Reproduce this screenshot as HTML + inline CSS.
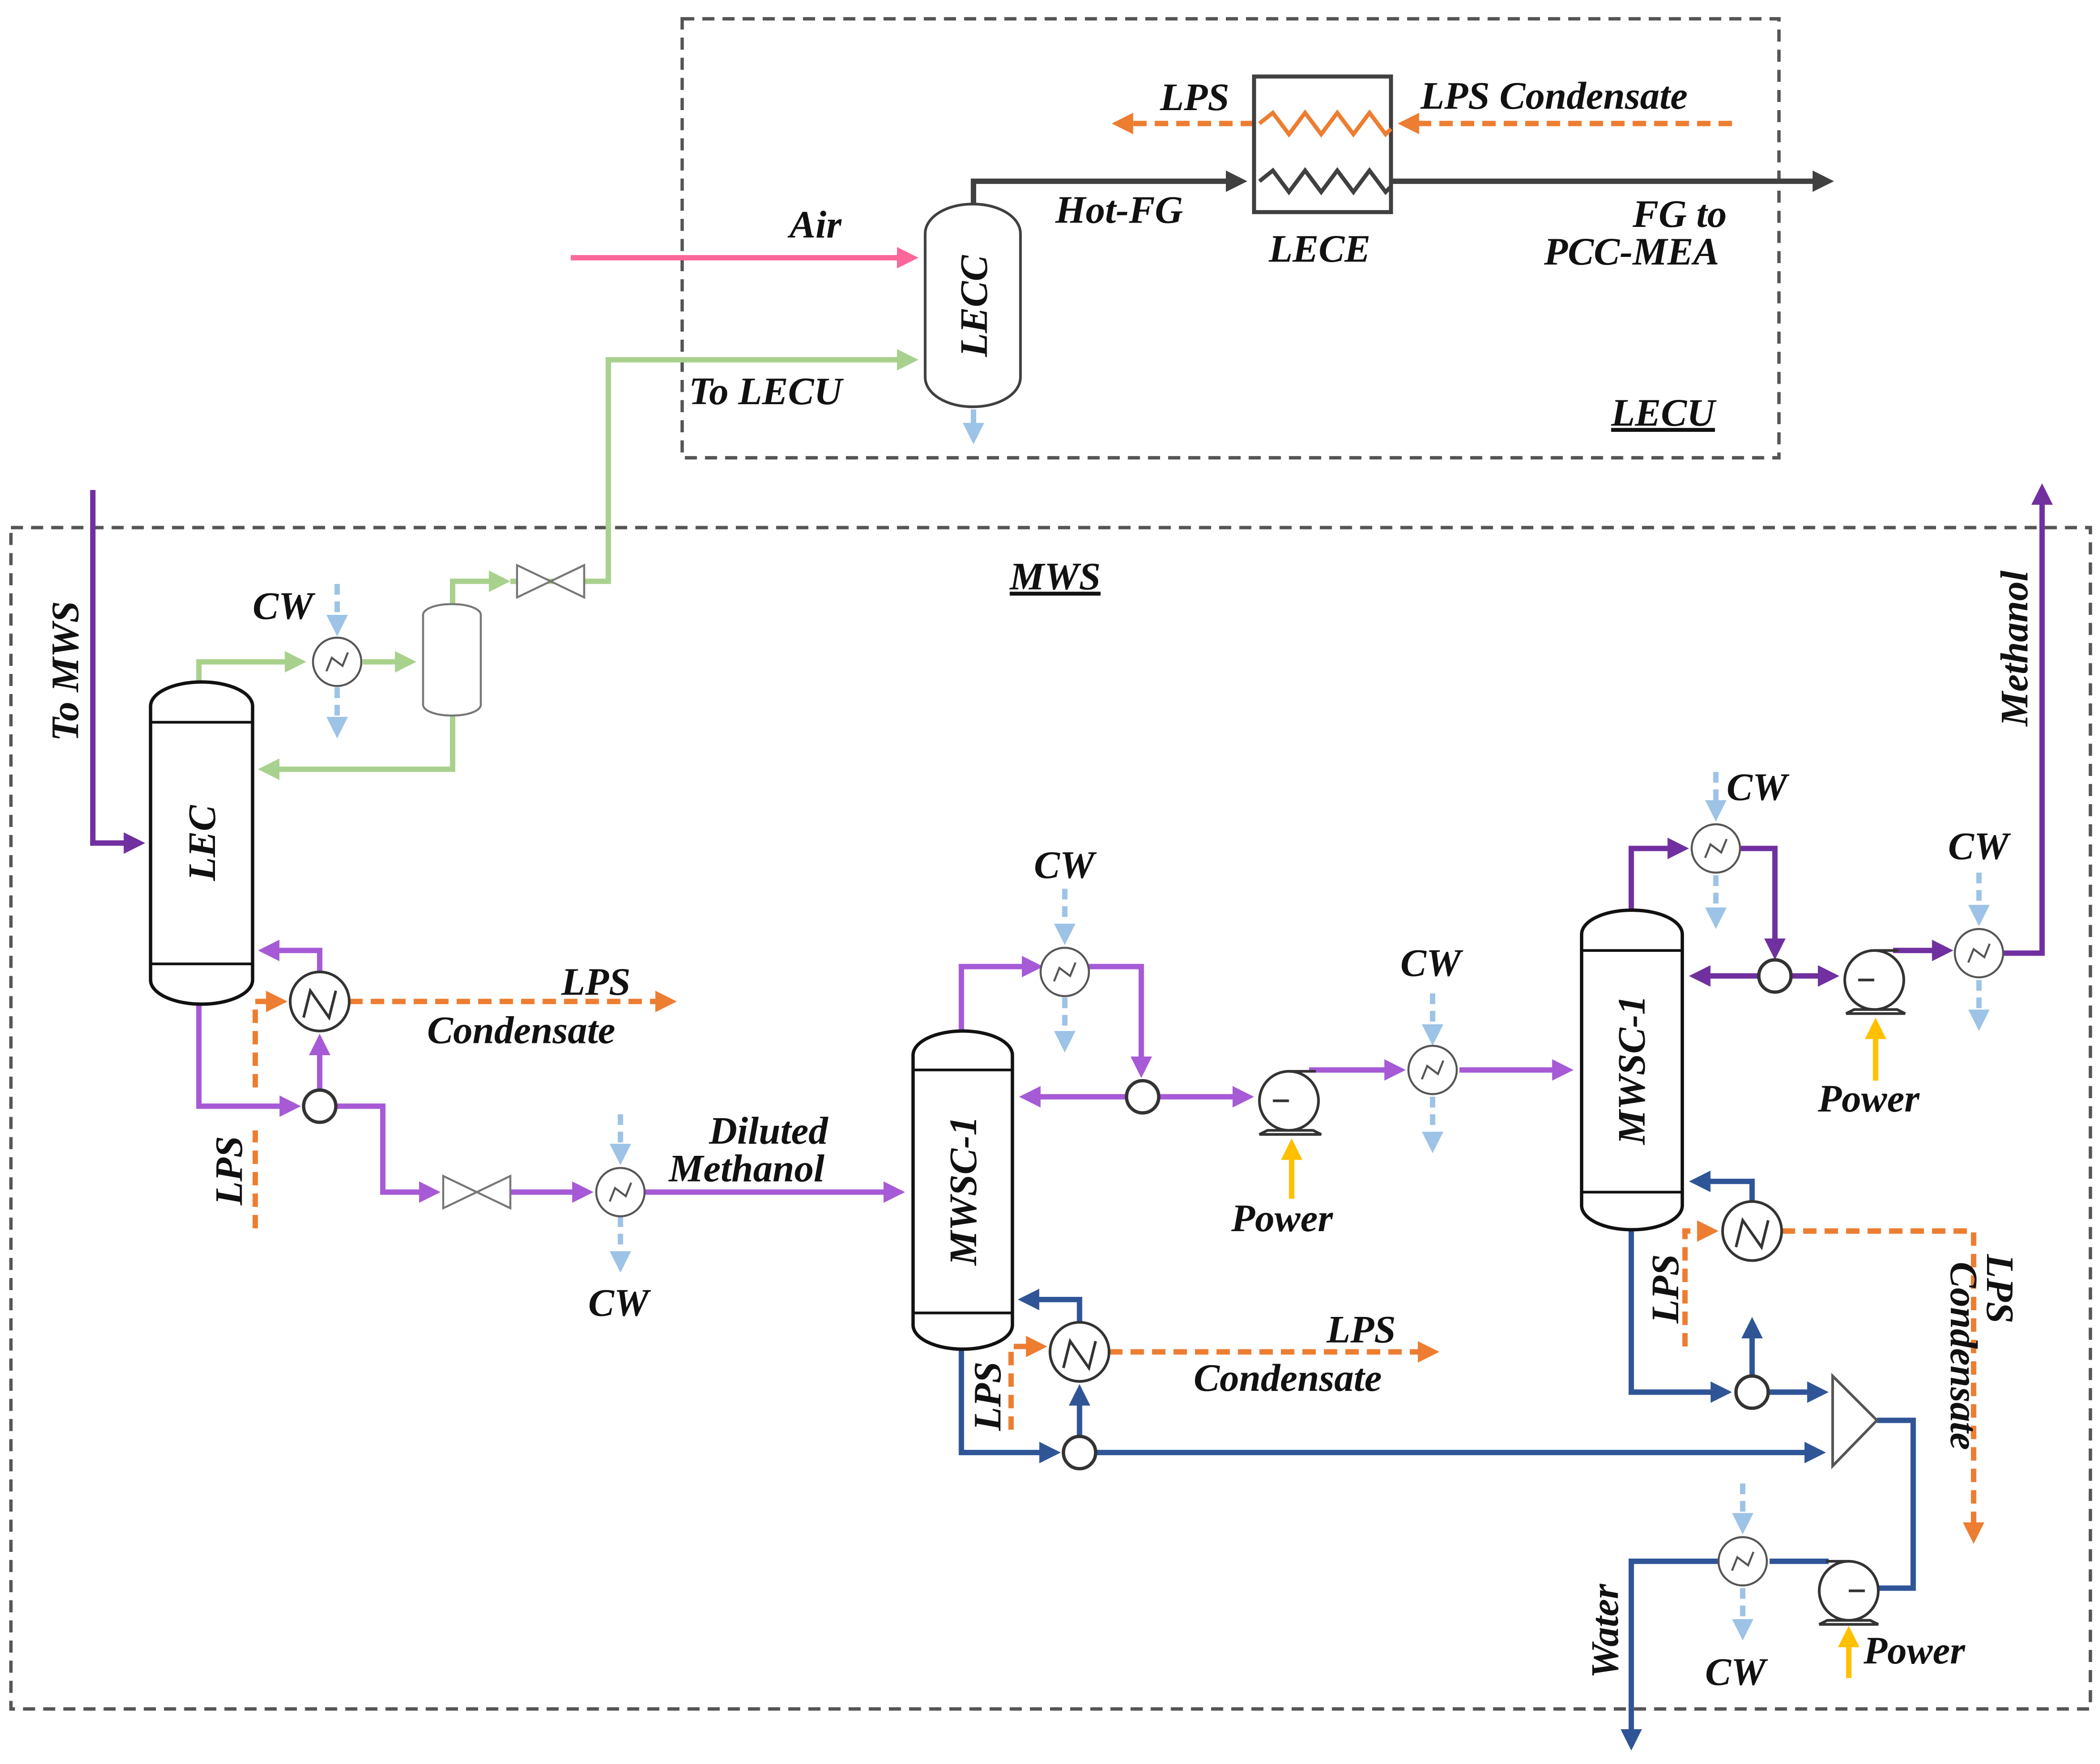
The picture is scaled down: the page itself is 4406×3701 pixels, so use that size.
<!DOCTYPE html>
<html><head><meta charset="utf-8"><style>
html,body{margin:0;padding:0;background:#fff}
svg{display:block}
text{font-family:"Liberation Serif",serif;font-style:italic;font-weight:bold;font-size:29px;fill:#111}
</style></head><body>
<svg width="4406" height="3701" viewBox="0 0 1564 1314" xmlns="http://www.w3.org/2000/svg">
<defs>
<marker id="ap" markerWidth="4" markerHeight="4" refX="3" refY="2" orient="auto" markerUnits="strokeWidth"><path d="M0,0L4,2L0,4z" fill="#a65ad6"/></marker>
<marker id="ad" markerWidth="4" markerHeight="4" refX="3" refY="2" orient="auto" markerUnits="strokeWidth"><path d="M0,0L4,2L0,4z" fill="#7030a0"/></marker>
<marker id="ab" markerWidth="4" markerHeight="4" refX="3" refY="2" orient="auto" markerUnits="strokeWidth"><path d="M0,0L4,2L0,4z" fill="#2f5597"/></marker>
<marker id="al" markerWidth="4" markerHeight="4" refX="3" refY="2" orient="auto" markerUnits="strokeWidth"><path d="M0,0L4,2L0,4z" fill="#9dc3e6"/></marker>
<marker id="ao" markerWidth="4" markerHeight="4" refX="3" refY="2" orient="auto" markerUnits="strokeWidth"><path d="M0,0L4,2L0,4z" fill="#ed7d31"/></marker>
<marker id="ag" markerWidth="4" markerHeight="4" refX="3" refY="2" orient="auto" markerUnits="strokeWidth"><path d="M0,0L4,2L0,4z" fill="#a9d18e"/></marker>
<marker id="ak" markerWidth="4" markerHeight="4" refX="3" refY="2" orient="auto" markerUnits="strokeWidth"><path d="M0,0L4,2L0,4z" fill="#ff6699"/></marker>
<marker id="ax" markerWidth="4" markerHeight="4" refX="3" refY="2" orient="auto" markerUnits="strokeWidth"><path d="M0,0L4,2L0,4z" fill="#404040"/></marker>
<marker id="ay" markerWidth="4" markerHeight="4" refX="3" refY="2" orient="auto" markerUnits="strokeWidth"><path d="M0,0L4,2L0,4z" fill="#ffc000"/></marker>
</defs>
<g fill="none" stroke="#555" stroke-width="2.5" stroke-dasharray="9,6">
<rect x="508" y="14" width="817" height="327"/>
<rect x="8" y="393" width="1549" height="880"/>
</g>
<g fill="none" stroke-width="4">
<path d="M425,192H680" stroke="#ff6699" marker-end="url(#ak)"/>
<path d="M380,433H453V268H680" stroke="#a9d18e" marker-end="url(#ag)"/>
<path d="M725,152V135H925" stroke="#404040" marker-end="url(#ax)"/>
<path d="M1036,135H1362" stroke="#404040" marker-end="url(#ax)"/>
<path d="M1290,92H1045" stroke="#ed7d31" stroke-dasharray="10,6" marker-end="url(#ao)"/>
<path d="M934,92H832" stroke="#ed7d31" stroke-dasharray="10,6" marker-end="url(#ao)"/>
<path d="M725,305V327" stroke="#9dc3e6" marker-end="url(#al)"/>
</g>
<rect x="689" y="152" width="71" height="151" rx="35" ry="22" fill="#fff" stroke="#404040" stroke-width="2"/>
<rect x="934" y="57" width="102" height="101" fill="#fff" stroke="#404040" stroke-width="3"/>
<path d="M938,92l10,-8l12,16l12,-16l12,16l12,-16l12,16l12,-16l12,16l4,-4" fill="none" stroke="#ed7d31" stroke-width="3"/>
<path d="M938,135l10,-8l12,16l12,-16l12,16l12,-16l12,16l12,-16l12,16l4,-4" fill="none" stroke="#404040" stroke-width="3"/>
<text x="588" y="177">Air</text>
<text x="786" y="166">Hot-FG</text>
<text x="945" y="195">LECE</text>
<text x="1216" y="169">FG to</text>
<text x="1150" y="197">PCC-MEA</text>
<text x="864" y="82">LPS</text>
<text x="1058" y="81">LPS Condensate</text>
<text x="513" y="301">To LECU</text>
<text x="1200" y="317" text-decoration="underline">LECU</text>
<text transform="translate(735,228) rotate(-90)" text-anchor="middle">LECC</text>
<text x="752" y="439" text-decoration="underline">MWS</text>

<g fill="none" stroke-width="4">
<path d="M69,365V628H104" stroke="#7030a0" marker-end="url(#ad)"/>
<path d="M148,508V493H224" stroke="#a9d18e" marker-end="url(#ag)"/>
<path d="M270,493H306" stroke="#a9d18e" marker-end="url(#ag)"/>
<path d="M337,450V433H376" stroke="#a9d18e" marker-end="url(#ag)"/>
<path d="M337,533V573H196" stroke="#a9d18e" marker-end="url(#ag)"/>
<path d="M148,748V824H220" stroke="#a65ad6" marker-end="url(#ap)"/>
<path d="M238,812V774" stroke="#a65ad6" marker-end="url(#ap)"/>
<path d="M238,724V708H196" stroke="#a65ad6" marker-end="url(#ap)"/>
<path d="M250,824H285V888H324" stroke="#a65ad6" marker-end="url(#ap)"/>
<path d="M380,888H438" stroke="#a65ad6" marker-end="url(#ap)"/>
<path d="M480,888H670" stroke="#a65ad6" marker-end="url(#ap)"/>
<g stroke="#ed7d31" stroke-dasharray="10,6">
<path d="M190,915V842"/>
<path d="M190,810V746H210" marker-end="url(#ao)"/>
<path d="M260,746H500" marker-end="url(#ao)"/>
</g>
<g stroke="#9dc3e6" stroke-dasharray="8,5">
<path d="M251,435V470" marker-end="url(#al)"/><path d="M251,512V546" marker-end="url(#al)"/>
<path d="M462,830V864" marker-end="url(#al)"/><path d="M462,906V944" marker-end="url(#al)"/>
</g>
</g>
<rect x="112" y="508" width="76" height="240" rx="38" ry="18" fill="#fff" stroke="#111" stroke-width="2.5"/>
<path d="M112,538H188M112,718H188" stroke="#111" stroke-width="2"/>
<rect x="315" y="450" width="43" height="83" rx="21" ry="8" fill="#fff" stroke="#777" stroke-width="1.5"/>
<path d="M385,421L435,445V421L385,445z" fill="#fff" stroke="#777" stroke-width="1.5"/>
<path d="M330,876L380,900V876L330,900z" fill="#fff" stroke="#777" stroke-width="1.5"/>
<g fill="#fff" stroke="#555" stroke-width="1.5">
<circle cx="251" cy="493" r="18"/><circle cx="462" cy="888" r="18"/>
</g>
<circle cx="238" cy="746" r="22" fill="#fff" stroke="#333" stroke-width="2"/>
<circle cx="238" cy="824" r="12" fill="#fff" stroke="#333" stroke-width="2.5"/>
<g fill="none" stroke="#555" stroke-width="1.5">
<path d="M243,500l4,-10l8,6l4,-10"/><path d="M454,895l4,-10l8,6l4,-10"/>
</g>
<path d="M226,758l5,-20l14,20l5,-20" fill="none" stroke="#333" stroke-width="2"/>
<text x="188" y="461">CW</text>
<text x="438" y="980">CW</text>
<text x="418" y="741">LPS</text>
<text x="318" y="777">Condensate</text>
<text x="528" y="852">Diluted</text>
<text x="498" y="880">Methanol</text>
<text transform="translate(58,500) rotate(-90)" text-anchor="middle">To MWS</text>
<text transform="translate(160,628) rotate(-90)" text-anchor="middle">LEC</text>
<text transform="translate(180,872) rotate(-90)" text-anchor="middle">LPS</text>

<g fill="none" stroke-width="4">
<path d="M716,768V720H773" stroke="#a65ad6" marker-end="url(#ap)"/>
<path d="M811,720H850V799" stroke="#a65ad6" marker-end="url(#ap)"/>
<path d="M839,817H763" stroke="#a65ad6" marker-end="url(#ap)"/>
<path d="M863,817H930" stroke="#a65ad6" marker-end="url(#ap)"/>
<path d="M975,797H1043" stroke="#a65ad6" marker-end="url(#ap)"/>
<path d="M1087,797H1168" stroke="#a65ad6" marker-end="url(#ap)"/>
<path d="M716,1005V1082H786" stroke="#2f5597" marker-end="url(#ab)"/>
<path d="M816,1082H1356" stroke="#2f5597" marker-end="url(#ab)"/>
<path d="M804,1070V1035" stroke="#2f5597" marker-end="url(#ab)"/>
<path d="M804,985V968H762" stroke="#2f5597" marker-end="url(#ab)"/>
<g stroke="#ed7d31" stroke-dasharray="10,6">
<path d="M753,1065V1003H776" marker-end="url(#ao)"/>
<path d="M826,1007H1068" marker-end="url(#ao)"/>
</g>
<g stroke="#9dc3e6" stroke-dasharray="8,5">
<path d="M793,662V700" marker-end="url(#al)"/><path d="M793,743V780" marker-end="url(#al)"/>
<path d="M1067,740V775" marker-end="url(#al)"/><path d="M1067,817V855" marker-end="url(#al)"/>
</g>
<path d="M962,893V852" stroke="#ffc000" marker-end="url(#ay)"/>
</g>
<rect x="680" y="768" width="74" height="237" rx="37" ry="18" fill="#fff" stroke="#111" stroke-width="2.5"/>
<path d="M680,797H754M680,978H754" stroke="#111" stroke-width="2"/>
<g fill="#fff" stroke="#555" stroke-width="1.5">
<circle cx="793" cy="724" r="18"/><circle cx="1067" cy="797" r="18"/>
</g>
<g fill="none" stroke="#555" stroke-width="1.5">
<path d="M785,731l4,-10l8,6l4,-10"/><path d="M1059,804l4,-10l8,6l4,-10"/>
</g>
<circle cx="804" cy="1007" r="22" fill="#fff" stroke="#333" stroke-width="2"/>
<path d="M792,1019l5,-20l14,20l5,-20" fill="none" stroke="#333" stroke-width="2"/>
<circle cx="851" cy="817" r="12" fill="#fff" stroke="#333" stroke-width="2.5"/>
<circle cx="804" cy="1082" r="12" fill="#fff" stroke="#333" stroke-width="2.5"/>
<path d="M944,842L938,845H984L978,842z" fill="#fff" stroke="#333" stroke-width="2"/>
<circle cx="960" cy="820" r="22" fill="#fff" stroke="#333" stroke-width="2"/>
<path d="M960,820H948M960,798H980" stroke="#333" stroke-width="2"/>
<text x="770" y="654">CW</text>
<text x="1043" y="727">CW</text>
<text x="917" y="917">Power</text>
<text x="988" y="1000">LPS</text>
<text x="889" y="1036">Condensate</text>
<text transform="translate(727,887) rotate(-90)" text-anchor="middle">MWSC-1</text>
<text transform="translate(745,1040) rotate(-90)" text-anchor="middle">LPS</text>

<g fill="none" stroke-width="4">
<path d="M1215,678V632H1254" stroke="#7030a0" marker-end="url(#ad)"/>
<path d="M1296,632H1322V711" stroke="#7030a0" marker-end="url(#ad)"/>
<path d="M1310,727H1262" stroke="#7030a0" marker-end="url(#ad)"/>
<path d="M1334,727H1366" stroke="#7030a0" marker-end="url(#ad)"/>
<path d="M1410,708H1451" stroke="#7030a0" marker-end="url(#ad)"/>
<path d="M1492,710H1521V364" stroke="#7030a0" marker-end="url(#ad)"/>
<path d="M1215,916V1037H1286" stroke="#2f5597" marker-end="url(#ab)"/>
<path d="M1305,1025V985" stroke="#2f5597" marker-end="url(#ab)"/>
<path d="M1317,1037H1358" stroke="#2f5597" marker-end="url(#ab)"/>
<path d="M1305,895V880H1262" stroke="#2f5597" marker-end="url(#ab)"/>
<path d="M1398,1058H1425V1183H1398" stroke="#2f5597"/>
<path d="M1362,1163H1318" stroke="#2f5597"/>
<path d="M1280,1163H1215V1300" stroke="#2f5597" marker-end="url(#ab)"/>
<g stroke="#ed7d31" stroke-dasharray="10,6">
<path d="M1255,1003V917H1276" marker-end="url(#ao)"/>
<path d="M1327,917H1470V1146" marker-end="url(#ao)"/>
</g>
<g stroke="#9dc3e6" stroke-dasharray="8,5">
<path d="M1278,575V608" marker-end="url(#al)"/><path d="M1278,652V688" marker-end="url(#al)"/>
<path d="M1474,650V686" marker-end="url(#al)"/><path d="M1474,730V764" marker-end="url(#al)"/>
<path d="M1298,1105V1139" marker-end="url(#al)"/><path d="M1298,1183V1218" marker-end="url(#al)"/>
</g>
<path d="M1397,805V762" stroke="#ffc000" marker-end="url(#ay)"/>
<path d="M1377,1250V1215" stroke="#ffc000" marker-end="url(#ay)"/>
</g>
<rect x="1178" y="678" width="75" height="238" rx="37" ry="18" fill="#fff" stroke="#111" stroke-width="2.5"/>
<path d="M1178,708H1253M1178,888H1253" stroke="#111" stroke-width="2"/>
<g fill="#fff" stroke="#555" stroke-width="1.5">
<circle cx="1278" cy="632" r="18"/><circle cx="1474" cy="710" r="18"/><circle cx="1298" cy="1163" r="18"/>
</g>
<g fill="none" stroke="#555" stroke-width="1.5">
<path d="M1270,639l4,-10l8,6l4,-10"/><path d="M1466,717l4,-10l8,6l4,-10"/><path d="M1290,1170l4,-10l8,6l4,-10"/>
</g>
<circle cx="1305" cy="917" r="22" fill="#fff" stroke="#333" stroke-width="2"/>
<path d="M1293,929l5,-20l14,20l5,-20" fill="none" stroke="#333" stroke-width="2"/>
<circle cx="1322" cy="727" r="12" fill="#fff" stroke="#333" stroke-width="2.5"/>
<circle cx="1305" cy="1037" r="12" fill="#fff" stroke="#333" stroke-width="2.5"/>
<path d="M1365,1025L1398,1058L1365,1092z" fill="#fff" stroke="#555" stroke-width="2"/>
<path d="M1381,752L1375,755H1419L1413,752z" fill="#fff" stroke="#333" stroke-width="2"/>
<circle cx="1396" cy="730" r="22" fill="#fff" stroke="#333" stroke-width="2"/>
<path d="M1396,730H1384M1396,708H1414" stroke="#333" stroke-width="2"/>
<path d="M1361,1207L1355,1210H1399L1393,1207z" fill="#fff" stroke="#333" stroke-width="2"/>
<circle cx="1377" cy="1185" r="22" fill="#fff" stroke="#333" stroke-width="2"/>
<path d="M1377,1185H1389M1377,1163H1360" stroke="#333" stroke-width="2"/>
<text x="1286" y="596">CW</text>
<text x="1451" y="640">CW</text>
<text x="1354" y="828">Power</text>
<text x="1388" y="1239">Power</text>
<text x="1270" y="1255">CW</text>
<text transform="translate(1225,797) rotate(-90)" text-anchor="middle">MWSC-1</text>
<text transform="translate(1250,960) rotate(-90)" text-anchor="middle">LPS</text>
<text transform="translate(1510,483) rotate(-90)" text-anchor="middle">Methanol</text>
<text transform="translate(1205,1215) rotate(-90)" text-anchor="middle">Water</text>
<text transform="translate(1480,960) rotate(90)" text-anchor="middle">LPS</text>
<text transform="translate(1453,1010) rotate(90)" text-anchor="middle">Condensate</text>
</svg>
</body></html>
